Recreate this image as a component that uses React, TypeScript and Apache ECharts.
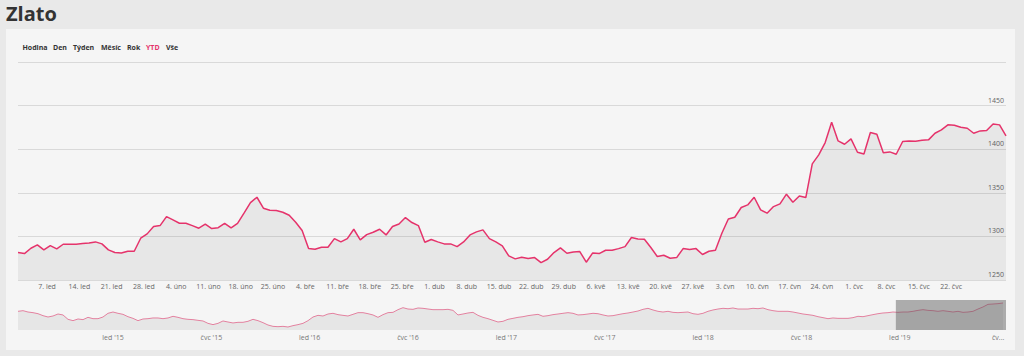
import React, { useEffect, useRef } from 'react';
import * as echarts from 'echarts';

// ---------- data ----------
const chartTitle = 'Zlato';
const rangeButtons = ['Hodina', 'Den', 'Týden', 'Měsíc', 'Rok', 'YTD', 'Vše'];
const activeButton = 'YTD';

// daily gold price (trading days, 31. 12. 2018 – 1. 8. 2019)
const goldValues = [
  1281.5, 1280.3, 1286.4, 1290.3, 1284.5, 1289.5, 1285.7, 1291.0, 1291.0, 1291.0,
  1291.8, 1292.5, 1293.7, 1291.4, 1284.5, 1281.5, 1281.0, 1283.0, 1283.0, 1297.9,
  1302.9, 1311.3, 1312.4, 1322.7, 1318.9, 1315.1, 1315.1, 1312.4, 1309.4, 1314.0,
  1309.0, 1310.0, 1315.0, 1309.7, 1315.0, 1326.6, 1338.8, 1344.9, 1332.3, 1330.0,
  1329.6, 1327.7, 1324.3, 1316.2, 1306.7, 1286.0, 1285.3, 1287.6, 1287.6, 1297.5,
  1293.7, 1297.5, 1308.2, 1296.0, 1302.0, 1304.8, 1308.2, 1301.7, 1311.3, 1314.3,
  1321.6, 1315.9, 1312.4, 1293.3, 1296.4, 1293.7, 1291.4, 1291.4, 1288.3, 1293.7,
  1301.7, 1305.2, 1307.5, 1297.5, 1293.7, 1289.1, 1277.6, 1274.2, 1276.1, 1274.6,
  1275.7, 1270.0, 1273.8, 1281.5, 1286.8, 1280.7, 1282.2, 1282.6, 1270.4, 1281.1,
  1280.3, 1284.1, 1284.1, 1286.0, 1288.3, 1298.7, 1297.1, 1296.7, 1287.2, 1276.9,
  1278.4, 1275.0, 1275.7, 1286.0, 1284.9, 1286.0, 1279.2, 1283.0, 1284.2, 1303.6,
  1320.0, 1322.0, 1333.1, 1336.1, 1344.9, 1330.4, 1326.6, 1334.2, 1337.3, 1348.4,
  1339.2, 1346.4, 1344.5, 1383.1, 1393.5, 1407.6, 1430.9, 1409.5, 1405.7, 1411.8,
  1396.5, 1394.6, 1419.1, 1417.2, 1395.8, 1396.9, 1394.2, 1408.8, 1409.5, 1409.1,
  1410.3, 1410.7, 1418.3, 1422.1, 1427.9, 1427.5, 1425.2, 1424.0, 1418.3, 1421.0,
  1421.4, 1429.0, 1427.9, 1415.3,
];

// weekly x tick labels (Mondays)
const xTickLabels = [
  '7. led', '14. led', '21. led', '28. led', '4. úno', '11. úno', '18. úno', '25. úno',
  '4. bře', '11. bře', '18. bře', '25. bře', '1. dub', '8. dub', '15. dub', '22. dub',
  '29. dub', '6. kvě', '13. kvě', '20. kvě', '27. kvě', '3. čvn', '10. čvn', '17. čvn',
  '24. čvn', '1. čvc', '8. čvc', '15. čvc', '22. čvc',
];
const daysPerWeek = 5;

const yMin = 1250;
const yMax = 1500;
const yStep = 50;

// navigator: long-term series, one value every ~9 days (mid-2014 – mid-2019)
const navValues = [
  1295, 1305, 1284, 1274, 1258, 1227, 1206, 1222, 1253, 1238,
  1170, 1149, 1175, 1165, 1201, 1180, 1180, 1206, 1264, 1284,
  1264, 1248, 1211, 1185, 1149, 1175, 1180, 1191, 1191, 1180,
  1191, 1217, 1201, 1180, 1170, 1165, 1154, 1144, 1107, 1087,
  1107, 1144, 1128, 1113, 1123, 1123, 1139, 1170, 1149, 1118,
  1081, 1060, 1055, 1060, 1050, 1071, 1087, 1107, 1149, 1206,
  1232, 1222, 1253, 1264, 1243, 1232, 1222, 1248, 1274, 1274,
  1258, 1238, 1201, 1243, 1274, 1279, 1321, 1352, 1331, 1326,
  1347, 1342, 1331, 1321, 1321, 1321, 1326, 1310, 1238, 1253,
  1269, 1279, 1232, 1201, 1180, 1154, 1128, 1139, 1170, 1185,
  1201, 1211, 1227, 1238, 1248, 1217, 1227, 1243, 1253, 1264,
  1274, 1264, 1238, 1243, 1253, 1264, 1258, 1238, 1222, 1227,
  1243, 1258, 1269, 1284, 1300, 1326, 1342, 1316, 1295, 1284,
  1295, 1279, 1274, 1279, 1284, 1258, 1248, 1264, 1295, 1316,
  1331, 1342, 1336, 1347, 1331, 1331, 1331, 1342, 1336, 1347,
  1321, 1305, 1295, 1295, 1295, 1284, 1269, 1253, 1243, 1232,
  1211, 1196, 1180, 1191, 1185, 1185, 1185, 1196, 1217, 1211,
  1227, 1243, 1258, 1269, 1274, 1284, 1279, 1284, 1284, 1295,
  1310, 1321, 1310, 1305, 1295, 1305, 1295, 1284, 1295, 1279,
  1284, 1295, 1331, 1363, 1404, 1409, 1415, 1425,
];
const navStartYear = 2014.517;
const navStepYears = 0.02542;
const navEndYear = 2019.54;
const navTickYears = [2015, 2015.5, 2016, 2016.5, 2017, 2017.5, 2018, 2018.5, 2019, 2019.5];
const navTickLabels = ["led '15", "čvc '15", "led '16", "čvc '16", "led '17", "čvc '17", "led '18", "čvc '18", "led '19", 'čv...'];
const navSelectionStartYear = 2018.98;
const navYMin = 1003;
const navYMax = 1472;

// ---------- styling ----------
const FONT = '"Open Sans", "Noto Sans", sans-serif';
const buttonX = [22.5, 53, 73, 101, 127, 146, 166];

export default function App() {
  const ref = useRef<HTMLDivElement>(null);

  useEffect(() => {
    if (!ref.current) return;
    const chart = echarts.init(ref.current, null, { renderer: 'svg' });

    const mainData = goldValues.map((v, i) => [i, v]);
    const mainTickPos = xTickLabels.map((_, k) => (k + 1) * daysPerWeek - 0.5);
    const navData = navValues.map((v, k) => [navStartYear + k * navStepYears, v]);

    const graphics: any[] = [
      {
        type: 'rect',
        z: -10,
        silent: true,
        shape: { x: 6, y: 29, width: 1009, height: 321 },
        style: { fill: '#f5f5f5' },
      },
      {
        type: 'text',
        x: 6,
        y: 3,
        style: {
          text: chartTitle,
          font: `bold 20px ${FONT}`,
          fill: '#333333',
          textVerticalAlign: 'top',
        },
      },
      ...rangeButtons.map((b, i) => ({
        type: 'text',
        x: buttonX[i],
        y: 47,
        style: {
          text: b,
          font: `bold 7px ${FONT}`,
          fill: b === activeButton ? '#e5336b' : '#333333',
          textVerticalAlign: 'middle',
        },
      })),
    ];

    chart.setOption({
      animation: false,
      backgroundColor: '#e9e9e9',
      textStyle: { fontFamily: FONT },
      graphic: graphics,
      grid: [
        { left: 18, right: 18, top: 62, height: 218 },
        { left: 18, right: 18, top: 300, height: 30 },
      ],
      xAxis: [
        {
          type: 'value',
          gridIndex: 0,
          min: 0,
          max: goldValues.length - 1,
          axisLine: { show: false },
          axisTick: { show: false },
          splitLine: { show: false },
          axisLabel: {
            customValues: mainTickPos,
            formatter: (v: number) => {
              const k = Math.round((v + 0.5) / daysPerWeek) - 1;
              return xTickLabels[k] ?? '';
            },
            fontSize: 7,
            color: '#666666',
            margin: 3,
            hideOverlap: false,
          },
        },
        {
          type: 'value',
          gridIndex: 1,
          min: navStartYear,
          max: navEndYear,
          axisLine: { show: false },
          axisTick: { show: false },
          splitLine: { show: false },
          axisLabel: {
            customValues: navTickYears,
            formatter: (v: number) => {
              const k = navTickYears.findIndex((t) => Math.abs(t - v) < 1e-6);
              return k >= 0 ? navTickLabels[k] : '';
            },
            fontSize: 7,
            color: '#777777',
            margin: 4,
            hideOverlap: false,
          },
        },
      ],
      yAxis: [
        {
          type: 'value',
          gridIndex: 0,
          position: 'right',
          min: yMin,
          max: yMax,
          interval: yStep,
          axisLine: { show: false },
          axisTick: { show: false },
          splitLine: {
            show: true,
            showMinLine: true,
            showMaxLine: true,
            lineStyle: { color: '#d9d9d9', width: 1 },
          },
          axisLabel: {
            inside: true,
            margin: 2,
            fontSize: 7,
            color: '#666666',
            verticalAlign: 'bottom',
            padding: [0, 0, 2, 0],
            formatter: (v: number) => (v >= yMax ? '' : String(v)),
          },
        },
        {
          type: 'value',
          gridIndex: 1,
          min: navYMin,
          max: navYMax,
          show: false,
          splitLine: { show: false },
        },
      ],
      series: [
        {
          type: 'line',
          xAxisIndex: 0,
          yAxisIndex: 0,
          data: mainData,
          showSymbol: false,
          symbol: 'none',
          lineStyle: { color: '#e5336b', width: 1.5 },
          itemStyle: { color: '#e5336b' },
          areaStyle: { color: 'rgba(0,0,0,0.08)' },
          z: 3,
        },
        {
          type: 'line',
          xAxisIndex: 1,
          yAxisIndex: 1,
          data: navData,
          showSymbol: false,
          symbol: 'none',
          lineStyle: { color: '#e3819f', width: 1 },
          itemStyle: { color: '#e3819f' },
          areaStyle: { color: 'rgba(0,0,0,0.085)' },
          z: 2,
          markArea: {
            silent: true,
            z: 6,
            itemStyle: { color: 'rgba(85,85,85,0.45)' },
            data: [[{ xAxis: navSelectionStartYear }, { xAxis: navEndYear }]],
          },
        },
      ],
    });

    return () => chart.dispose();
  }, []);

  return (
    <div
      ref={ref}
      style={{ position: 'fixed', left: 0, top: 0, width: 1024, height: 356 }}
    />
  );
}
